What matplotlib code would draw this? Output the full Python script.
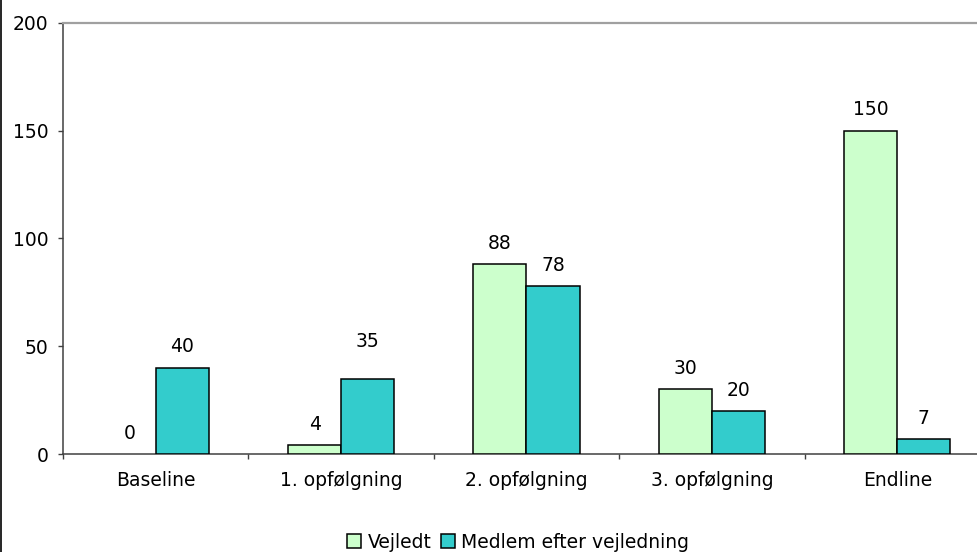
import matplotlib.pyplot as plt
import numpy as np
from matplotlib.lines import Line2D
from matplotlib.patches import Patch

# data
categories = ["Baseline", "1. opfølgning", "2. opfølgning", "3. opfølgning", "Endline"]
vejledt = [0, 4, 88, 30, 150]
medlem = [40, 35, 78, 20, 7]
series_names = ["Vejledt", "Medlem efter vejledning"]
yticks = [0, 50, 100, 150, 200]

colors = ['#CCFFCC', '#33CCCC']

plt.rcParams['font.family'] = ['DejaVu Sans']
plt.rcParams['font.size'] = 13.5

fig = plt.figure(figsize=(9.78, 5.52), dpi=100)
# plot area runs past the right edge of the picture, as in the original crop
ax = fig.add_axes([63 / 978, 1 - 454 / 552, (990 - 63) / 978, (454 - 23) / 552])

x = np.arange(len(categories))
w = 0.286
bars_v = ax.bar(x - w / 2, vejledt, w, color=colors[0], edgecolor='black', linewidth=1.1,
                zorder=3)
bars_m = ax.bar(x + w / 2, medlem, w, color=colors[1], edgecolor='black', linewidth=1.1,
                zorder=3)
# a zero-height bar shows nothing in the original
for b in list(bars_v) + list(bars_m):
    if b.get_height() == 0:
        b.set_linewidth(0)

# value labels above bars (the "35" label sits higher in the original)
for s, (xs, vals) in enumerate(((x - w / 2, vejledt), (x + w / 2, medlem))):
    for i, (xi, v) in enumerate(zip(xs, vals)):
        dy = 27 if (s, i) == (1, 1) else 15
        ax.annotate(str(v), (xi, v), xytext=(0, dy), textcoords='offset points',
                    ha='center', va='center')

ax.set_xlim(-0.5, len(categories) - 0.5)
ax.set_ylim(0, 200)
ax.set_yticks(yticks)
ax.tick_params(axis='y', direction='out', length=3.6, width=1, color='#404040', pad=7)

ax.set_xticks(x)
ax.set_xticklabels(categories)
ax.set_xticks(np.arange(len(categories) + 1) - 0.5, minor=True)
ax.tick_params(axis='x', which='major', length=0, pad=12)
ax.tick_params(axis='x', which='minor', direction='out', length=3.6, width=1, color='#404040')

for side in ('left', 'bottom'):
    ax.spines[side].set_color('#404040')
    ax.spines[side].set_linewidth(1.1)
ax.spines['right'].set_visible(False)
ax.spines['top'].set_color('#a0a0a0')
ax.spines['top'].set_linewidth(1.6)

handles = [Patch(facecolor=c, edgecolor='black', linewidth=1.1) for c in colors]
fig.legend(handles, series_names, loc='center', bbox_to_anchor=(518 / 978, 1 - 542 / 552),
           ncol=2, frameon=False, handlelength=0.75, handleheight=0.75,
           handletextpad=0.35, columnspacing=0.5, borderpad=0)

# left border of the chart frame
fig.add_artist(Line2D([1.5 / 978, 1.5 / 978], [0, 1], color='black', linewidth=1.2,
                      transform=fig.transFigure))

fig.savefig('out.png', dpi=100)
